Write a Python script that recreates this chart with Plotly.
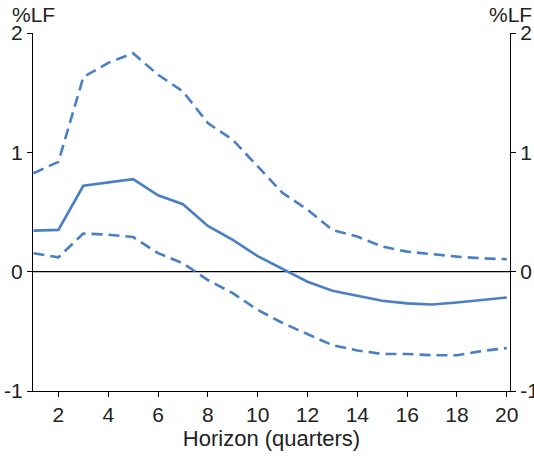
import plotly.graph_objects as go

horizon = list(range(1, 21))
central = [0.344, 0.35, 0.72, 0.75, 0.775, 0.64, 0.565, 0.383, 0.266, 0.13,
           0.02, -0.084, -0.16, -0.2, -0.244, -0.266, -0.275, -0.258, -0.238, -0.216]
upper = [0.825, 0.92, 1.63, 1.75, 1.83, 1.65, 1.51, 1.245, 1.105, 0.88,
         0.66, 0.52, 0.35, 0.294, 0.21, 0.168, 0.146, 0.126, 0.112, 0.104]
lower = [0.155, 0.12, 0.32, 0.31, 0.29, 0.155, 0.07, -0.07, -0.18, -0.32,
         -0.43, -0.52, -0.616, -0.66, -0.69, -0.69, -0.70, -0.70, -0.665, -0.64]
x_ticks = [2, 4, 6, 8, 10, 12, 14, 16, 18, 20]
y_ticks = [-1, 0, 1, 2]

blue = "#4a7fc6"
font = dict(family="Liberation Sans, Arial, sans-serif", size=21, color="#222222")
title_font = dict(family="Liberation Sans, Arial, sans-serif", size=22, color="#222222")

fig = go.Figure()
fig.add_trace(go.Scatter(x=horizon, y=upper, mode="lines",
                         line=dict(color=blue, width=2.6, dash="11px,6px")))
fig.add_trace(go.Scatter(x=horizon, y=lower, mode="lines",
                         line=dict(color=blue, width=2.6, dash="11px,6px")))
fig.add_trace(go.Scatter(x=horizon, y=central, mode="lines",
                         line=dict(color=blue, width=2.6)))
fig.add_trace(go.Scatter(x=horizon, y=central, yaxis="y2", mode="lines",
                         line=dict(color=blue, width=0), hoverinfo="skip", opacity=0))

fig.add_shape(type="line", xref="paper", yref="y", x0=0, x1=1, y0=0, y1=0,
              line=dict(color="black", width=1.2), layer="below")

axis_common = dict(ticks="outside", ticklen=5, tickcolor="black", showline=True,
                   linecolor="black", linewidth=1.2, showgrid=False, zeroline=False,
                   automargin=False, tickfont=font)

fig.update_layout(
    width=534, height=456,
    margin=dict(l=33, r=24, t=33, b=65),
    plot_bgcolor="white", paper_bgcolor="white",
    showlegend=False, font=font,
    xaxis=dict(range=[0.98, 20.13], tickvals=x_ticks,
               title=dict(text="Horizon (quarters)", font=title_font, standoff=4),
               **axis_common),
    yaxis=dict(range=[-1, 2], tickvals=y_ticks, ticktext=["-1", "0", "1", "2"],
               **axis_common),
    yaxis2=dict(range=[-1, 2], tickvals=y_ticks, ticktext=["-1", "0", "1", "2"],
                overlaying="y", side="right", **axis_common),
)

fig.add_annotation(text="%LF", xref="paper", yref="paper", x=0, y=1, xanchor="center",
                   yanchor="bottom", yshift=5, xshift=0, showarrow=False, font=font)
fig.add_annotation(text="%LF", xref="paper", yref="paper", x=1, y=1, xanchor="center",
                   yanchor="bottom", yshift=5, xshift=0, showarrow=False, font=font)

fig.write_html("out.html", config={"displayModeBar": False},
               post_script="document.body.style.margin='0';document.body.style.overflow='hidden';")
